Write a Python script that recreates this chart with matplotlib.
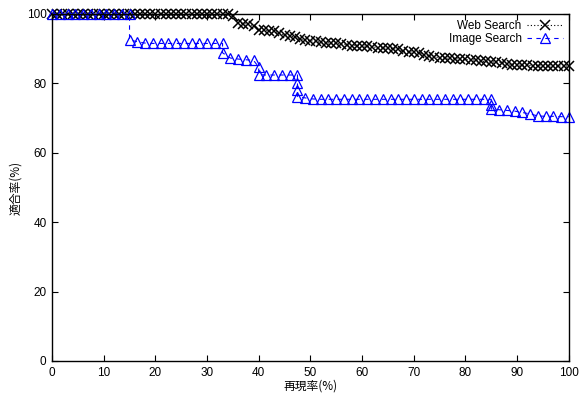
import matplotlib
matplotlib.use("Agg")
import matplotlib.pyplot as plt

plt.rcParams['font.family'] = ['Liberation Sans', 'Noto Sans CJK JP', 'DejaVu Sans']

# Web Search: recall (%) vs precision (%)
web_recall = [0, 1, 2, 3, 4, 5, 6, 7, 8, 9, 10, 11, 12, 13, 14, 15, 16, 17, 18, 19,
              20, 21, 22, 23, 24, 25, 26, 27, 28, 29, 30, 31, 32, 33, 34, 35, 36, 37, 38, 39,
              40, 41, 42, 43, 44, 45, 46, 47, 48, 49, 50, 51, 52, 53, 54, 55, 56, 57, 58, 59,
              60, 61, 62, 63, 64, 65, 66, 67, 68, 69, 70, 71, 72, 73, 74, 75, 76, 77, 78, 79,
              80, 81, 82, 83, 84, 85, 86, 87, 88, 89, 90, 91, 92, 93, 94, 95, 96, 97, 98, 99, 100]
web_prec = [100, 100, 100, 100, 100, 100, 100, 100, 100, 100, 100, 100, 100, 100, 100, 100, 100, 100, 100, 100,
            100, 100, 100, 100, 100, 100, 100, 100, 100, 100, 100, 100, 100, 100, 100, 99.5, 97.4, 97.2, 97.1, 96.6,
            95.5, 95.3, 95.2, 95.0, 94.6, 93.8, 93.6, 93.3, 92.7, 92.5, 92.3, 92.1, 91.8, 91.7, 91.6, 91.5, 91.3, 91.1, 90.9, 90.9,
            90.8, 90.7, 90.5, 90.3, 90.2, 90.1, 90.0, 89.8, 89.3, 89.1, 89.0, 88.8, 88.3, 88.0, 87.6, 87.4, 87.3, 87.2, 87.1, 87.0,
            86.9, 86.8, 86.7, 86.4, 86.3, 86.2, 86.1, 86.0, 85.6, 85.4, 85.3, 85.2, 85.2, 85.1, 85.1, 85.0, 85.0, 85.0, 85.0, 85.0, 85.0]

# Image Search: recall (%) vs precision (%)
img_recall = [0, 1.5, 3, 4.5, 6, 7.5, 9, 10.5, 12, 13.5, 15, 15, 16.5, 18, 19.5, 21, 22.5, 24,
              25.5, 27, 28.5, 30, 31.5, 33, 33, 34.5, 36, 37.5, 39, 40, 40, 41.5, 43, 44.5, 46, 47.5,
              47.5, 47.5, 47.5, 49, 50.5, 52, 53.5, 55, 56.5, 58, 59.5, 61, 62.5, 64, 65.5, 67, 68.5,
              70, 71.5, 73, 74.5, 76, 77.5, 79, 80.5, 82, 83.5, 85, 85, 85, 86.5, 88, 89.5, 91, 92.5,
              94, 95.5, 97, 98.5, 100]
img_prec = [100, 100, 100, 100, 100, 100, 100, 100, 100, 100, 100, 92.5, 92.0, 91.6, 91.5, 91.5, 91.5, 91.5,
            91.5, 91.5, 91.5, 91.5, 91.5, 91.5, 88.8, 87.3, 87.0, 86.8, 86.6, 84.7, 82.5, 82.4, 82.4, 82.4, 82.4, 82.4,
            80.0, 78.0, 76.2, 75.8, 75.5, 75.4, 75.4, 75.4, 75.4, 75.4, 75.4, 75.4, 75.4, 75.4, 75.4, 75.4, 75.4,
            75.4, 75.4, 75.4, 75.4, 75.4, 75.4, 75.4, 75.4, 75.4, 75.4, 75.4, 73.8, 72.6, 72.4, 72.2, 72.0, 71.6, 71.2,
            70.6, 70.5, 70.5, 70.4, 70.4]

x_ticks = [0, 10, 20, 30, 40, 50, 60, 70, 80, 90, 100]
y_ticks = [0, 20, 40, 60, 80, 100]

fig = plt.figure(figsize=(5.81, 3.98), dpi=100)
ax = fig.add_axes([0.0895, 0.093, 0.8895, 0.872])

ax.plot(web_recall, web_prec, color="black", linestyle=(0, (1, 2)), linewidth=0.8,
        marker="x", markersize=7, markeredgewidth=1.1, clip_on=False, label="Web Search")
ax.plot(img_recall, img_prec, color="#0000ff", linestyle=(0, (4, 4)), linewidth=0.8,
        marker="^", markersize=7, markerfacecolor="none", markeredgewidth=0.9,
        clip_on=False, label="Image Search")

ax.set_xlim(0, 100)
ax.set_ylim(0, 100)
ax.set_xticks(x_ticks)
ax.set_yticks(y_ticks)
ax.tick_params(direction="in", top=True, right=True, length=4, width=0.8, labelsize=8.5, pad=4)
for s in ax.spines.values():
    s.set_linewidth(1.0)

ax.set_xlabel("再現率(%)", fontsize=8.5, labelpad=1,
              family=['Noto Sans CJK JP', 'DejaVu Sans'])
ax.set_ylabel("適合率(%)", fontsize=8.5, labelpad=3,
              family=['Noto Sans CJK JP', 'DejaVu Sans'])

ax.legend(loc="upper right", frameon=False, markerfirst=False, fontsize=8.5,
          handlelength=3, handletextpad=0.5, labelspacing=0.1, borderaxespad=0.1)

fig.savefig("out.png", dpi=100)
